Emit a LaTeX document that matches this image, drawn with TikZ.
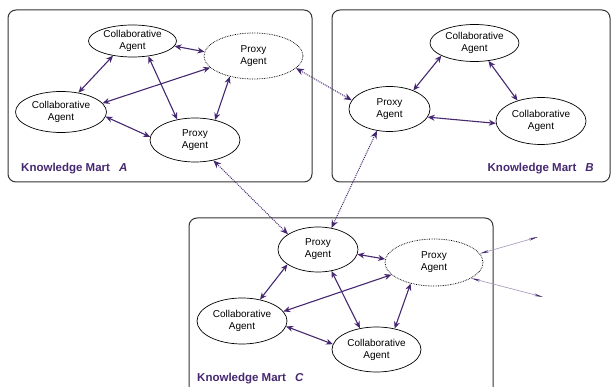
\documentclass[tikz,border=0pt]{standalone}
\usepackage{fontspec}
\setmainfont{Liberation Sans}
\usetikzlibrary{shapes.geometric,arrows.meta}
\definecolor{mpurple}{RGB}{70,40,112}
\begin{document}
\begin{tikzpicture}[x=1pt,y=-1pt,
  agent/.style={ellipse,draw,line width=0.7pt,inner sep=0pt,align=center,
    font=\fontsize{10}{12}\selectfont},
  proxy/.style={agent,densely dotted,line width=0.8pt},
  mart/.style={draw=black!80,line width=1pt,rounded corners=8pt},
  martlabel/.style={font=\fontsize{11.5}{13}\selectfont\bfseries,text=mpurple,inner sep=0pt},
  link/.style={<->,>={Stealth[length=7pt,width=6pt]},draw=mpurple,line width=1.1pt},
  remote/.style={<->,>={Stealth[length=8pt,width=6.5pt]},draw=mpurple,line width=1pt,densely dotted},
  outlink/.style={{Stealth[length=9pt,width=2.5pt,color=mpurple]}-{Stealth[length=9pt,width=2.5pt,color=mpurple]},
    draw=mpurple!45,line width=0.7pt}]
  \useasboundingbox (0,0) rectangle (611,387);
  \draw[mart] (8,10) rectangle (312,182);
  \draw[mart] (332,10) rectangle (610,182);
  \begin{scope}
    \clip (0,0) rectangle (611,387);
    \draw[mart] (189,218) rectangle (493,400);
  \end{scope}
  \node[martlabel,anchor=base west] (labA) at (21,172) {Knowledge Mart\hspace{9pt}\textit{A}};
  \node[martlabel,anchor=base east] (labB) at (594,172) {Knowledge Mart\hspace{9pt}\textit{B}};
  \node[martlabel,anchor=base west] (labC) at (197,382) {Knowledge Mart\hspace{9pt}\textit{C}};
  % mart A
  \node[agent,minimum width=88pt,minimum height=32pt] (cA1) at (132.5,41) {Collaborative\\Agent};
  \node[proxy,minimum width=99pt,minimum height=46pt] (pA1) at (253.5,56) {Proxy\\Agent};
  \node[agent,minimum width=91pt,minimum height=41pt] (cA2) at (61,112) {Collaborative\\Agent};
  \node[agent,minimum width=90pt,minimum height=44pt] (pA2) at (195,140) {Proxy\\Agent};
  % mart B
  \node[agent,minimum width=89pt,minimum height=37pt] (cB1) at (474.5,43) {Collaborative\\Agent};
  \node[agent,minimum width=81pt,minimum height=45pt] (pB1) at (389.5,109) {Proxy\\Agent};
  \node[agent,minimum width=90pt,minimum height=47pt] (cB2) at (541,121) {Collaborative\\Agent};
  % mart C
  \node[agent,minimum width=80pt,minimum height=45pt] (pC1) at (318,249.5) {Proxy\\Agent};
  \node[proxy,minimum width=98pt,minimum height=47pt] (pC2) at (434,262.5) {Proxy\\Agent};
  \node[agent,minimum width=90pt,minimum height=46pt] (cC1) at (242,321) {Collaborative\\Agent};
  \node[agent,minimum width=89pt,minimum height=45pt] (cC2) at (376.5,349.5) {Collaborative\\Agent};
  \draw[link] (cA1.-7) -- (pA1.175);
  \draw[link] (cA1.217) -- (cA2.48);
  \draw[link] (pA1.195) -- (cA2.12);
  \draw[link] (cA1.-44) -- (pA2.131);
  \draw[link] (pA1.221) -- (pA2.45);
  \draw[link] (cA2.-6) -- (pA2.176);
  \draw[link] (cB1.201) -- (pB1.38);
  \draw[link] (cB1.-52) -- (cB2.139);
  \draw[link] (pB1.-12) -- (cB2.183);
  \draw[link] (pC1.-7) -- (pC2.176);
  \draw[link] (pC1.206) -- (cC1.50);
  \draw[link] (pC2.196) -- (cC1.13);
  \draw[link] (pC1.-58) -- (cC2.128);
  \draw[link] (pC2.222) -- (cC2.49);
  \draw[link] (cC1.-7) -- (cC2.173);
  \draw[remote] (pA1.-16) -- (pB1.167);
  \draw[remote] (pA2.-48) -- (pC1.153);
  \draw[remote] (pB1.240) -- (pC1.58);
  \coordinate (outU) at (538,237);
  \coordinate (outD) at (543,297);
  \draw[outlink] (pC2.11) -- (outU);
  \draw[outlink] (pC2.-23) -- (outD);
\end{tikzpicture}
\end{document}
